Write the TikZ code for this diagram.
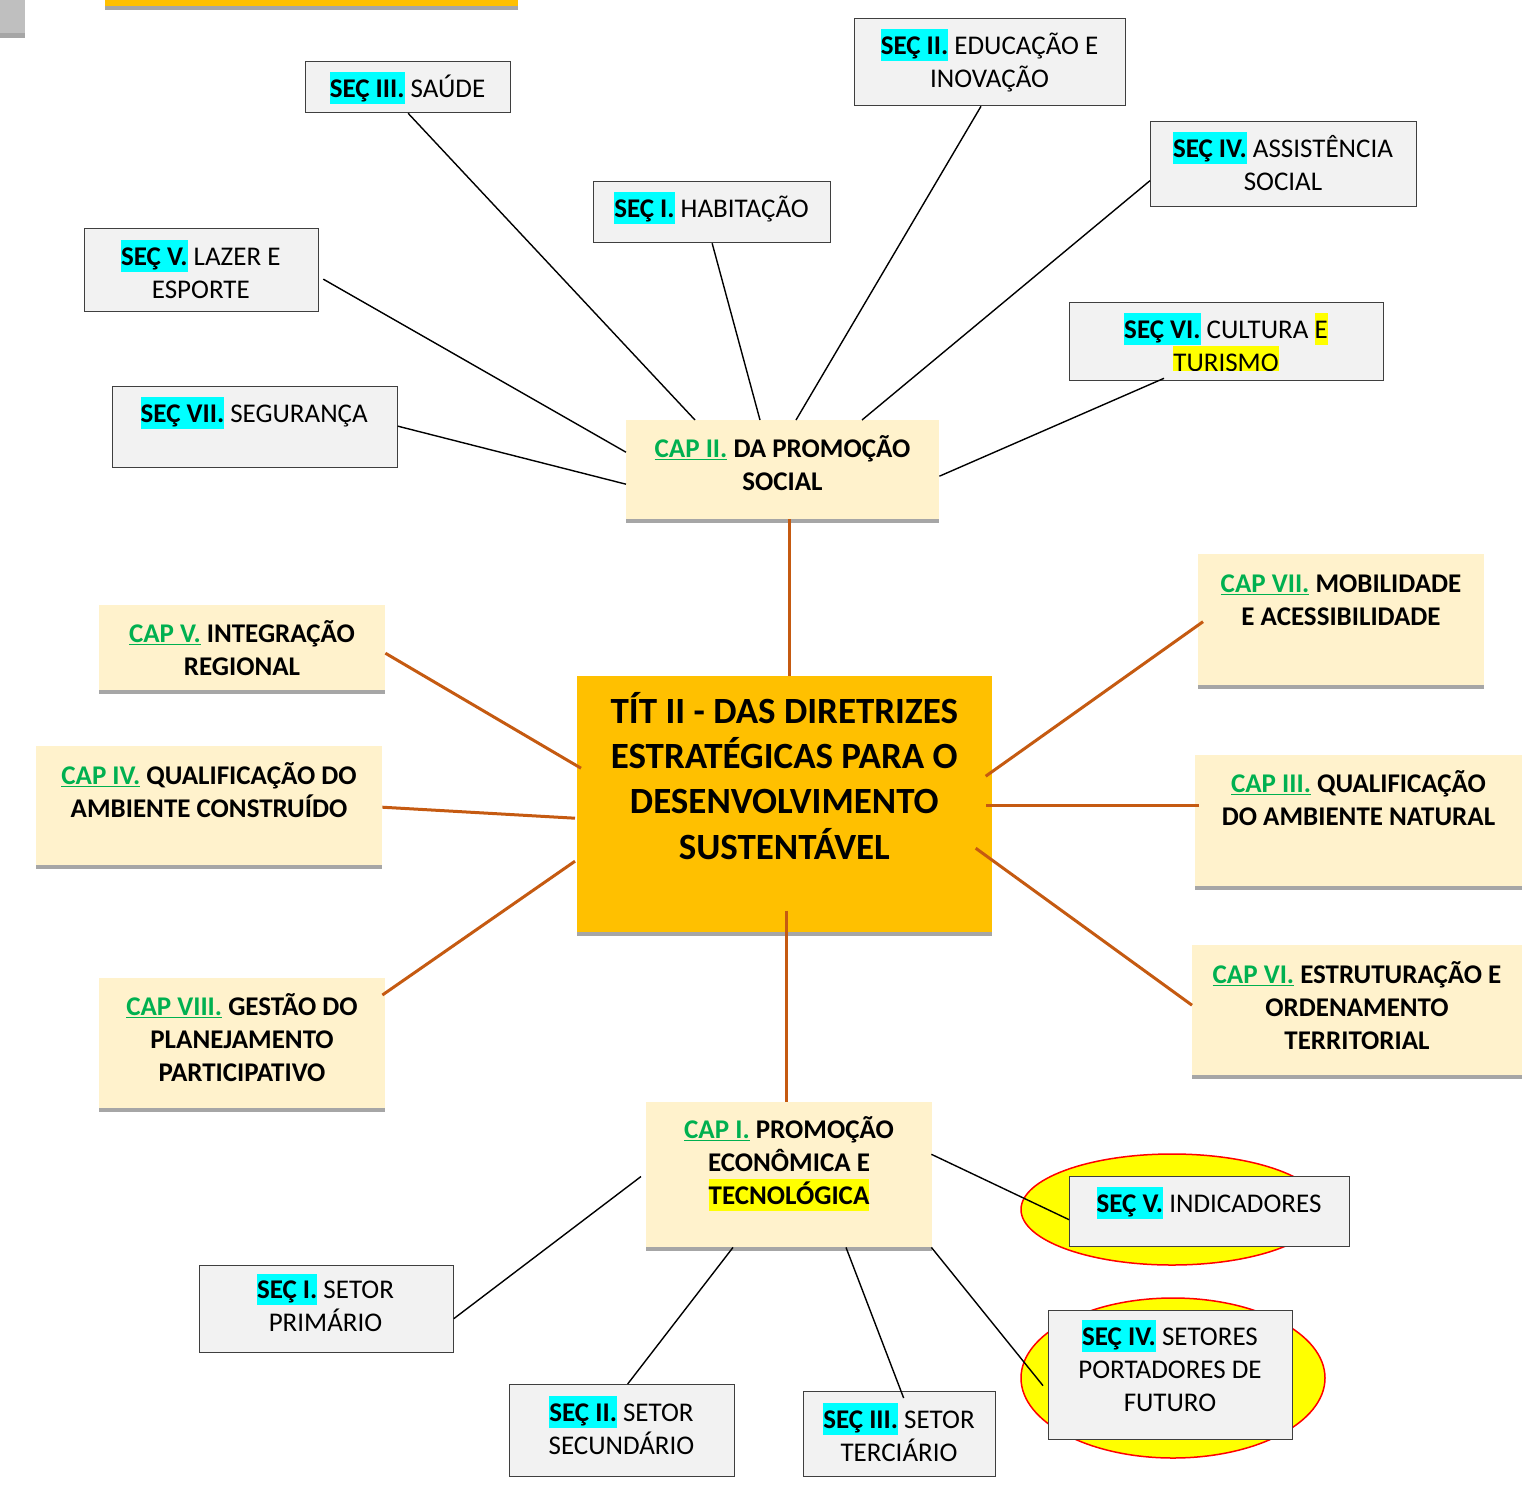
\documentclass[tikz,border=0pt]{standalone}
\usepackage{fontspec}
\setmainfont{Carlito}
\usetikzlibrary{shadows,shapes.geometric}
\definecolor{cream}{HTML}{FFF2CC}
\definecolor{gold}{HTML}{FFC000}
\definecolor{rust}{HTML}{C55A11}
\definecolor{capgreen}{HTML}{00B050}
\definecolor{secfill}{HTML}{F2F2F2}
\definecolor{secdraw}{HTML}{3F3F3F}
\definecolor{shade}{HTML}{A6A6A6}
\definecolor{cornergray}{HTML}{BFBFBF}
\definecolor{hlcyan}{HTML}{00FFFF}
\definecolor{hlyellow}{HTML}{FFFF00}
\setlength{\lineskiplimit}{-100pt}
\setlength{\lineskip}{0pt}
\newcommand{\hls}{\rule[-0.25em]{0pt}{1.18em}}
\newcommand{\hlbox}[2]{{\setlength{\fboxsep}{0pt}\colorbox{#1}{\hls#2}}}
\newcommand{\secao}[1]{\hlbox{hlcyan}{\bfseries SEÇ #1}}
\newcommand{\capit}[1]{\hls\textcolor{capgreen}{\underline{CAP #1}}}
\tikzset{
  secbox/.style={draw=secdraw, fill=secfill, line width=1.3pt, anchor=north west, inner sep=0pt},
  capbox/.style={fill=cream, anchor=north west, inner sep=0pt,
    drop shadow={shadow xshift=0pt, shadow yshift=-3.5pt, fill=shade, opacity=1}},
  titbox/.style={fill=gold, anchor=north west, inner sep=0pt,
    drop shadow={shadow xshift=0pt, shadow yshift=-4pt, fill=shade, opacity=1}},
  hlell/.style={ellipse, draw=red, fill=hlyellow, line width=1.5pt, inner sep=0pt},
  txt/.style={anchor=north, inner sep=0pt, align=center, font=\fontsize{27}{33}\selectfont},
  captxt/.style={anchor=north, inner sep=0pt, align=center, font=\fontsize{27}{33}\selectfont\bfseries},
  tittxt/.style={anchor=north, inner sep=0pt, align=center, font=\fontsize{37}{45.3}\selectfont\bfseries},
  blk/.style={draw=black, line width=1.4pt},
  org/.style={draw=rust, line width=3pt},
}
\begin{document}
\begin{tikzpicture}[x=1pt, y=-1pt]
\useasboundingbox (0,0) rectangle (1540,1489);
% decorative remnants at the top
\node[fill=cornergray, anchor=north west, inner sep=0pt, minimum width=25, minimum height=33] (corner) at (0,0) {};
\node[fill=shade, anchor=north west, inner sep=0pt, minimum width=25, minimum height=5] (cornershade) at (0,33) {};
\node[titbox, minimum width=413, minimum height=6] (bar) at (105,0) {};

% highlight ellipses
\node[hlell, minimum width=302, minimum height=111] (ell1) at (1172,1209.5) {};
\node[hlell, minimum width=304, minimum height=160] (ell2) at (1173,1378) {};

% section boxes
\node[secbox, minimum width=205, minimum height=51] (saude) at (305,61) {};
\node[secbox, minimum width=271, minimum height=87] (educ) at (854,18) {};
\node[secbox, minimum width=237, minimum height=61] (habit) at (593,181) {};
\node[secbox, minimum width=266, minimum height=85] (assist) at (1150,121) {};
\node[secbox, minimum width=234, minimum height=83] (lazer) at (84,228) {};
\node[secbox, minimum width=314, minimum height=78] (cult) at (1069,302) {};
\node[secbox, minimum width=285, minimum height=81] (seg) at (111.5,386) {};
\node[secbox, minimum width=280, minimum height=70] (ind) at (1069,1176) {};
\node[secbox, minimum width=244, minimum height=129] (setores) at (1048,1310) {};
\node[secbox, minimum width=254, minimum height=87] (prim) at (198.5,1265) {};
\node[secbox, minimum width=225, minimum height=92] (secund) at (509,1384) {};
\node[secbox, minimum width=192, minimum height=85] (terc) at (803,1391) {};

% chapter boxes
\node[capbox, minimum width=313, minimum height=99] (cap2) at (626,420) {};
\node[capbox, minimum width=286, minimum height=131] (cap7) at (1198,554) {};
\node[capbox, minimum width=286, minimum height=85] (cap5) at (99,605) {};
\node[capbox, minimum width=346, minimum height=119] (cap4) at (36,746) {};
\node[capbox, minimum width=327, minimum height=131] (cap3) at (1195,755) {};
\node[capbox, minimum width=286, minimum height=130] (cap8) at (99,978) {};
\node[capbox, minimum width=330, minimum height=130] (cap6) at (1192,945) {};
\node[capbox, minimum width=286, minimum height=145] (cap1) at (646,1102) {};
\node[titbox, minimum width=415, minimum height=256] (tit) at (577,676) {};

% texts
\node[txt] (saudeT) at (407.5,71.9) {\secao{III.} SAÚDE};
\node[txt] (educT) at (989.5,28.9) {\secao{II.} EDUCAÇÃO E\\INOVAÇÃO};
\node[txt] (habitT) at (711.5,191.9) {\secao{I.} HABITAÇÃO};
\node[txt] (assistT) at (1283,131.9) {\secao{IV.} ASSISTÊNCIA\\SOCIAL};
\node[txt] (lazerT) at (200.8,239.9) {\secao{V.} LAZER E\\ESPORTE};
\begin{scope}
\clip (1069,302) rectangle (1383,370.5);
\node[txt] (cultT) at (1226,312.9) {\secao{VI.} CULTURA \hlbox{hlyellow}{E}\\\hlbox{hlyellow}{TURISMO}};
\end{scope}
\node[txt] (segT) at (254.2,396.9) {\secao{VII.} SEGURANÇA};
\node[txt] (indT) at (1209,1186.9) {\secao{V.} INDICADORES};
\node[txt] (setT) at (1170,1319.9) {\secao{IV.} SETORES\\PORTADORES DE\\FUTURO};
\node[txt] (primT) at (325.5,1273.4) {\secao{I.} SETOR\\PRIMÁRIO};
\node[txt] (secT) at (621.5,1395.9) {\secao{II.} SETOR\\SECUNDÁRIO};
\node[txt] (tercT) at (899,1402.9) {\secao{III.} SETOR\\TERCIÁRIO};

\node[captxt] (cap2T) at (782.5,431.9) {\capit{II.} DA PROMOÇÃO\\SOCIAL};
\node[captxt] (cap7T) at (1341,566.9) {\capit{VII.} MOBILIDADE\\E ACESSIBILIDADE};
\node[captxt] (cap5T) at (242,616.9) {\capit{V.} INTEGRAÇÃO\\REGIONAL};
\node[captxt] (cap4T) at (209,758.9) {\capit{IV.} QUALIFICAÇÃO DO\\AMBIENTE CONSTRUÍDO};
\node[captxt] (cap3T) at (1358.5,766.9) {\capit{III.} QUALIFICAÇÃO\\DO AMBIENTE NATURAL};
\node[captxt] (cap8T) at (242,989.9) {\capit{VIII.} GESTÃO DO\\PLANEJAMENTO\\PARTICIPATIVO};
\node[captxt] (cap6T) at (1357,957.9) {\capit{VI.} ESTRUTURAÇÃO E\\ORDENAMENTO\\TERRITORIAL};
\node[captxt] (cap1T) at (789,1112.9) {\capit{I.} PROMOÇÃO\\ECONÔMICA E\\\hlbox{hlyellow}{TECNOLÓGICA}};
\node[tittxt] (titT) at (784.3,688.6) {\rule{0pt}{0.93em}TÍT II - DAS DIRETRIZES\\ESTRATÉGICAS PARA O\\DESENVOLVIMENTO\\SUSTENTÁVEL};

% connectors: sections of chapter II
\draw[blk] (saude.south) -- ([xshift=69pt]cap2.north west);
\draw[blk] (habit.south) -- ([xshift=134pt]cap2.north west);
\draw[blk] ([xshift=127pt]educ.south west) -- ([xshift=170pt]cap2.north west);
\draw[blk] ([yshift=-16.5pt]assist.west) -- ([xshift=236pt]cap2.north west);
\draw[blk] ([xshift=95pt,yshift=3pt]cult.south west) -- ([yshift=-6.5pt]cap2.east);
\draw[blk] ([xshift=4pt,yshift=-9pt]lazer.east) -- ([yshift=17.5pt]cap2.west);
\draw[blk] ([yshift=1pt]seg.east) -- ([yshift=-14.5pt]cap2.west);

% connectors: chapters to title
\draw[org] ([xshift=6.5pt]cap2.south) -- ([xshift=4.5pt]tit.north);
\draw[org] ([yshift=-5.5pt]cap5.east) -- ([xshift=4pt,yshift=36pt]tit.west);
\draw[org] ([yshift=-1.5pt]cap4.east) -- ([xshift=-2pt,yshift=-14pt]tit.west);
\draw[org] ([xshift=-3pt,yshift=-17pt]cap8.north east) -- ([xshift=-2pt,yshift=-57pt]tit.west);
\draw[org] ([xshift=5pt,yshift=-2pt]cap7.west) -- ([xshift=-6.7pt,yshift=28pt]tit.east);
\draw[org] ([xshift=4pt,yshift=15.5pt]cap3.west) -- ([xshift=-6.7pt,yshift=-1pt]tit.east);
\draw[org] ([yshift=5pt]cap6.west) -- ([xshift=-16.7pt,yshift=-44pt]tit.east);
\draw[org] ([xshift=1.5pt,yshift=21.7pt]tit.south) -- ([xshift=-3pt]cap1.north);

% connectors: sections of chapter I
\draw[blk] ([xshift=-1pt,yshift=-52.3pt]cap1.north east) -- ([yshift=-8pt]ind.west);
\draw[blk] ([xshift=-1pt]cap1.south east) -- ([xshift=-5pt,yshift=-10.5pt]setores.west);
\draw[blk] ([xshift=200pt]cap1.south west) -- ([xshift=4pt,yshift=-7pt]terc.north);
\draw[blk] ([xshift=87pt]cap1.south west) -- ([xshift=5.5pt]secund.north);
\draw[blk] ([xshift=-5pt,yshift=-1.8pt]cap1.west) -- ([yshift=-9.5pt]prim.east);
\end{tikzpicture}
\end{document}
